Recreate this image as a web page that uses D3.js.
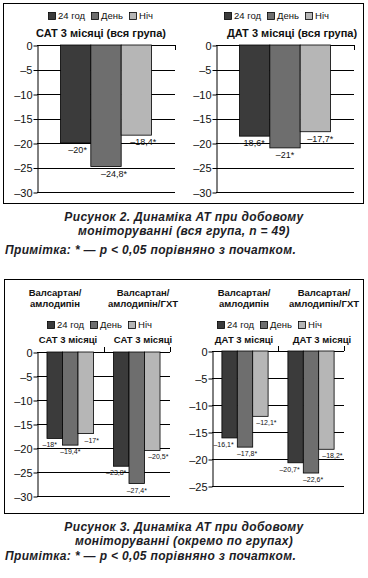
<!DOCTYPE html>
<html>
<head>
<meta charset="utf-8">
<script src="https://cdn.jsdelivr.net/npm/d3@7"></script>
<style>
  body { margin: 0; background: #fff; }
  svg { display: block; font-family: "Liberation Sans", Arial, sans-serif; }
</style>
</head>
<body>
<svg width="368" height="578"></svg>
<script>
// series and values (change from baseline, mmHg)
const SERIES = ["24 год", "День", "Ніч"];
const SAT_ALL = [-20, -24.8, -18.4];
const DAT_ALL = [-18.6, -21, -17.7];
const GROUPS = [["Валсартан/", "амлодипін"], ["Валсартан/", "амлодипін/ГХТ"]];
const SAT_GROUPS = [[-18, -19.4, -17], [-23.8, -27.4, -20.5]];
const DAT_GROUPS = [[-16.1, -17.8, -12.1], [-20.7, -22.6, -18.2]];
const TICKS_30 = [0, -5, -10, -15, -20, -25, -30];
const TICKS_25 = [0, -5, -10, -15, -20, -25];

const COLORS = ["#3b3b3b", "#6e6e6e", "#b6b6b6"];
const INK = "#1d1d26";

const svg = d3.select("svg");

const dash = v => (v < 0 ? "\u2013" : "") + String(Math.abs(v)).replace(".", ",");

function legend(x0, ySq) {
  let x = x0;
  SERIES.forEach((s, i) => {
    svg.append("rect").attr("x", x + 0.5).attr("y", ySq + 0.5)
      .attr("width", 7).attr("height", 7)
      .attr("fill", COLORS[i]).attr("stroke", "#000").attr("stroke-width", 0.8);
    const t = svg.append("text").attr("x", x + 10).attr("y", ySq + 7)
      .attr("font-size", 9.5).attr("fill", "#111").text(s);
    x += 10 + t.node().getComputedTextLength() + 6;
  });
}

function panel(o) {
  const g = svg.append("g");
  const y = d3.scaleLinear().domain([0, o.min]).range([o.top, o.bottom]);
  const x = d3.scaleBand().domain(d3.range(o.data.length))
    .range([o.x0, o.x1]).paddingInner(o.pi).paddingOuter(o.po);
  const xs = d3.scaleBand().domain(d3.range(SERIES.length)).range([0, x.bandwidth()]);

  // gridlines
  g.selectAll(".grid").data(o.ticks).join("line")
    .attr("x1", o.x0).attr("x2", o.x1)
    .attr("y1", d => Math.round(y(d)) + 0.5).attr("y2", d => Math.round(y(d)) + 0.5)
    .attr("stroke", "#000").attr("stroke-width", 1);

  // y axis
  g.append("g").attr("transform", `translate(${o.x0 + 0.5},0.5)`)
    .call(d3.axisLeft(y).tickValues(o.ticks).tickSize(4).tickSizeOuter(0).tickPadding(1).tickFormat(dash))
    .call(a => a.selectAll("text").attr("font-size", 11).attr("font-family", "Liberation Sans, Arial, sans-serif").attr("fill", "#111"))
    .call(a => a.selectAll("line, path").attr("stroke", "#000"));

  // category boundary ticks
  const edges = d3.range(o.data.length + 1).map(i =>
    i === 0 ? o.x0 : i === o.data.length ? o.x1 : (x(i - 1) + x.bandwidth() + x(i)) / 2);
  g.selectAll(".ctick").data(edges.slice(1)).join("line")
    .attr("x1", d => Math.round(d) + 0.5).attr("x2", d => Math.round(d) + 0.5)
    .attr("y1", y(0)).attr("y2", y(0) + o.tickDir * 5)
    .attr("stroke", "#000");

  // bars
  o.data.forEach((vals, gi) => {
    g.selectAll(null).data(vals).join("rect")
      .attr("x", (d, i) => x(gi) + xs(i))
      .attr("y", y(0))
      .attr("width", xs.bandwidth())
      .attr("height", d => y(d) - y(0))
      .attr("fill", (d, i) => COLORS[i])
      .attr("stroke", "#000").attr("stroke-width", 0.8);

    g.selectAll(null).data(vals).join("text")
      .attr("x", (d, i) => x(gi) + xs(i) + xs.bandwidth() / 2 + o.labelDx[i])
      .attr("y", d => y(d) + o.labelDy)
      .attr("text-anchor", "middle")
      .attr("font-size", o.labelSize).attr("fill", "#111")
      .text(d => dash(d) + "*");
  });

  // titles
  o.titles.forEach(t => {
    g.append("text").attr("x", t.x).attr("y", t.y).attr("text-anchor", "middle")
      .attr("font-size", t.size).attr("font-weight", "bold").attr("fill", "#111").text(t.text);
  });
  legend(o.legendX, o.legendY);
}

// frames
svg.append("rect").attr("x", 3.5).attr("y", 3.5).attr("width", 360).attr("height", 200)
  .attr("fill", "none").attr("stroke", "#000");
svg.append("rect").attr("x", 4.5).attr("y", 279.5).attr("width", 359).attr("height", 234)
  .attr("fill", "none").attr("stroke", "#000");

// Figure 2
panel({
  data: [SAT_ALL], min: -30, ticks: TICKS_30, x0: 37, x1: 175, top: 45, bottom: 192,
  pi: 0.34, po: 0.17, tickDir: 1, labelDx: [2, 8, 7], labelDy: 10, labelSize: 9,
  titles: [{ text: "САТ 3 місяці (вся група)", x: 101, y: 37, size: 11 }],
  legendX: 48, legendY: 12
});
panel({
  data: [DAT_ALL], min: -30, ticks: TICKS_30, x0: 216, x1: 354, top: 45, bottom: 192,
  pi: 0.34, po: 0.17, tickDir: 1, labelDx: [-3, 0, 5], labelDy: 10, labelSize: 9,
  titles: [{ text: "ДАТ 3 місяці (вся група)", x: 292, y: 37, size: 11 }],
  legendX: 224, legendY: 12
});

// Figure 3
panel({
  data: SAT_GROUPS, min: -30, ticks: TICKS_30, x0: 37, x1: 170, top: 352, bottom: 496,
  pi: 0.3, po: 0.15, tickDir: -1, labelDx: [-5, 0, 6], labelDy: 9, labelSize: 7,
  titles: [
    { text: GROUPS[0][0], x: 55, y: 296, size: 9.5 }, { text: GROUPS[0][1], x: 55, y: 307, size: 9.5 },
    { text: GROUPS[1][0], x: 143, y: 296, size: 9.5 }, { text: GROUPS[1][1], x: 143, y: 307, size: 9.5 },
    { text: "САТ 3 місяці", x: 68, y: 343, size: 9.5 }, { text: "САТ 3 місяці", x: 143, y: 343, size: 9.5 }
  ],
  legendX: 47, legendY: 321
});
panel({
  data: DAT_GROUPS, min: -25, ticks: TICKS_25, x0: 212, x1: 344, top: 351, bottom: 486,
  pi: 0.3, po: 0.15, tickDir: -1, labelDx: [-6, 2, 6], labelDy: 9, labelSize: 7,
  titles: [
    { text: GROUPS[0][0], x: 244, y: 296, size: 9.5 }, { text: GROUPS[0][1], x: 244, y: 307, size: 9.5 },
    { text: GROUPS[1][0], x: 324, y: 296, size: 9.5 }, { text: GROUPS[1][1], x: 324, y: 307, size: 9.5 },
    { text: "ДАТ 3 місяці", x: 244, y: 343, size: 9.5 }, { text: "ДАТ 3 місяці", x: 322, y: 343, size: 9.5 }
  ],
  legendX: 217, legendY: 321
});

// captions
const caption = (text, x, y, anchor) => svg.append("text")
  .attr("x", x).attr("y", y).attr("text-anchor", anchor)
  .attr("font-size", 12).attr("letter-spacing", 0.35)
  .attr("font-weight", "bold").attr("font-style", "italic")
  .attr("fill", INK).text(text);

caption("Рисунок 2. Динаміка АТ при добовому", 184, 221, "middle");
caption("моніторуванні (вся група, n = 49)", 184, 235, "middle");
caption("Примітка: * — р < 0,05 порівняно з початком.", 5, 254, "start");
caption("Рисунок 3. Динаміка АТ при добовому", 184, 531, "middle");
caption("моніторуванні (окремо по групах)", 184, 545, "middle");
caption("Примітка: * — р < 0,05 порівняно з початком.", 5, 560, "start");
</script>
</body>
</html>
